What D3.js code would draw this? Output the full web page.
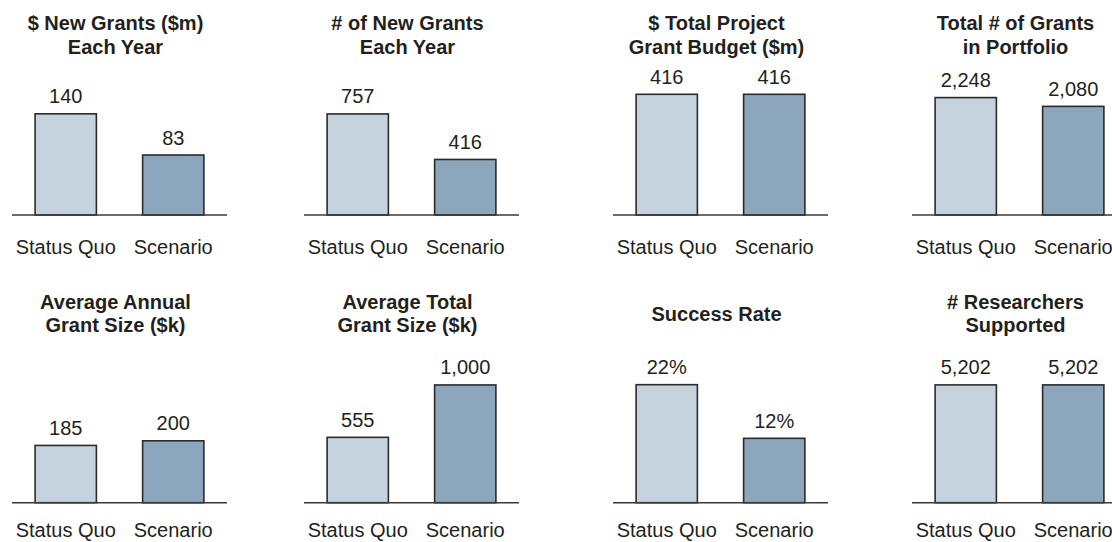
<!DOCTYPE html>
<html>
<head>
<meta charset="utf-8">
<script src="https://cdn.jsdelivr.net/npm/d3@7"></script>
<style>
  html, body { margin: 0; padding: 0; background: #fff; }
  svg { display: block; }
</style>
</head>
<body>
<svg id="chart" width="1112" height="542"></svg>
<script>
// Scenario comparison: eight small bar panels, each Status Quo vs Scenario.
const categories = ["Status Quo", "Scenario"];

const panelTitles = [
  ["$ New Grants ($m)", "Each Year"],
  ["# of New Grants", "Each Year"],
  ["$ Total Project", "Grant Budget ($m)"],
  ["Total # of Grants", "in Portfolio"],
  ["Average Annual", "Grant Size ($k)"],
  ["Average Total", "Grant Size ($k)"],
  ["Success Rate"],
  ["# Researchers", "Supported"]
];

const statusQuoValues = [140, 757, 416, 2248, 185, 555, 22, 5202];
const scenarioValues  = [83, 416, 416, 2080, 200, 1000, 12, 5202];

// Upper end of each panel's value axis
const axisMax = [167, 904, 416, 2311, 390, 1025, 22.5, 5330];

// Label formats per panel
const valueFormats = [",", ",", ",", ",", ",", ",", "pct", ","];

// ---- layout ----
const svg = d3.select("#chart");
const colLeft = [12, 304, 613, 912];
const axisWidth = 215;
const rowBase = [215, 502.7];
const catLabelOffset = [39, 34.5];
const plotHeight = 120.7;
const titleBaseline = [30, 308.7];
const titleLineGap = 23.7;
const barColors = ["#c5d3de", "#8ba6bd"];
const textColor = "#231f20";

const fmt = (v, kind) => kind === "pct" ? v + "%" : d3.format(",")(v);

panelTitles.forEach((title, i) => {
  const row = Math.floor(i / 4), col = i % 4;
  const g = svg.append("g")
    .attr("transform", `translate(${colLeft[col]},${rowBase[row]})`);

  const x = d3.scaleBand()
    .domain(categories)
    .range([0, axisWidth])
    .paddingInner(0.43)
    .paddingOuter(0.215);

  const y = d3.scaleLinear()
    .domain([0, axisMax[i]])
    .range([0, -plotHeight]);

  const data = categories.map((c, k) => ({
    cat: c,
    value: k === 0 ? statusQuoValues[i] : scenarioValues[i],
    color: barColors[k]
  }));

  // bars
  g.selectAll("rect.bar")
    .data(data)
    .join("rect")
    .attr("class", "bar")
    .attr("x", d => x(d.cat))
    .attr("width", x.bandwidth())
    .attr("y", d => y(d.value))
    .attr("height", d => -y(d.value))
    .attr("fill", d => d.color)
    .attr("stroke", "#2b2b2b")
    .attr("stroke-width", 1.6);

  // baseline
  g.append("line")
    .attr("x1", 0).attr("x2", axisWidth)
    .attr("y1", 0).attr("y2", 0)
    .attr("stroke", "#3a3a3a")
    .attr("stroke-width", 1.6);

  // value labels
  g.selectAll("text.val")
    .data(data)
    .join("text")
    .attr("class", "val")
    .attr("x", d => x(d.cat) + x.bandwidth() / 2)
    .attr("y", d => y(d.value) - 10.5)
    .attr("text-anchor", "middle")
    .attr("font-family", "'Liberation Sans', Arial, sans-serif")
    .attr("font-size", 20)
    .attr("fill", textColor)
    .text(d => fmt(d.value, valueFormats[i]));

  // category labels
  g.selectAll("text.cat")
    .data(data)
    .join("text")
    .attr("class", "cat")
    .attr("x", d => x(d.cat) + x.bandwidth() / 2)
    .attr("y", catLabelOffset[row])
    .attr("text-anchor", "middle")
    .attr("font-family", "'Liberation Sans', Arial, sans-serif")
    .attr("font-size", 20)
    .attr("fill", textColor)
    .text(d => d.cat);

  // title
  const cx = colLeft[col] + axisWidth / 2 - 4;
  const top = titleBaseline[row] + (title.length === 1 ? titleLineGap / 2 : 0);
  const t = svg.append("text")
    .attr("text-anchor", "middle")
    .attr("font-family", "'Liberation Sans', Arial, sans-serif")
    .attr("font-size", 20)
    .attr("font-weight", "bold")
    .attr("fill", textColor);
  title.forEach((line, k) => {
    t.append("tspan")
      .attr("x", cx)
      .attr("y", top + k * titleLineGap)
      .text(line);
  });
});
</script>
</body>
</html>
